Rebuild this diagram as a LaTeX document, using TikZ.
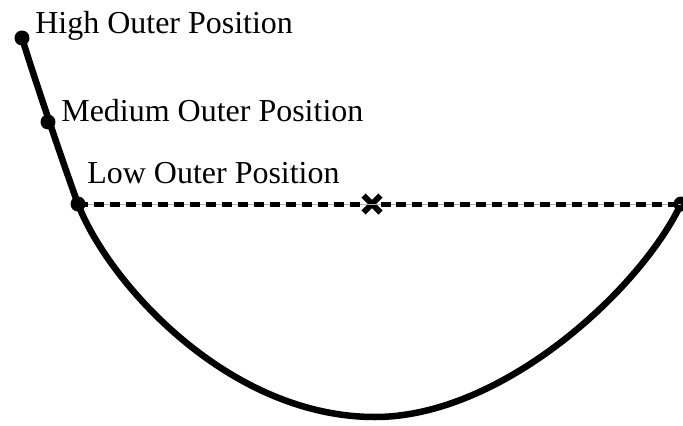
\documentclass[tikz,border=0pt]{standalone}
\usepackage{fontspec}
\setmainfont{Liberation Serif}
\usetikzlibrary{shapes.misc}

\begin{document}
\begin{tikzpicture}[
        x=0.02cm, y=-0.02cm,
        dot/.style={circle, fill=black, inner sep=0pt, minimum size=0.3cm},
        lbl/.style={anchor=base west, inner sep=0pt, font=\fontsize{18.2}{20}\selectfont},
        swing/.style={line width=0.13cm, line cap=round},
        chord/.style={line width=0.1cm, dash pattern=on 0.2cm off 0.12cm},
        xmark/.style={cross out, draw, line width=0.12cm, minimum size=0.22cm, inner sep=0pt},
    ]
        \useasboundingbox (0,0) rectangle (683,426);

        \node (high) [dot] at (22,38) {};
        \node (medium) [dot] at (48,122) {};
        \node (low) [dot] at (78,204) {};
        \node (rightend) [dot] at (681,204) {};
        \coordinate (bottom) at (375,417);
        \node (centre) [xmark] at (372,204) {};

        \node (hightext) [lbl] at (35,33) {High Outer Position};
        \node (mediumtext) [lbl] at (61,121) {Medium Outer Position};
        \node (lowtext) [lbl] at (87,183) {Low Outer Position};

        \draw [swing] (high.center) .. controls (35,80) and (62,160) .. (low.center)
            .. controls (108,282) and (228,417) .. (bottom)
            .. controls (502,417) and (640,290) .. (rightend.center);
        \draw [gray!60, line width=0.3pt] (low.center) -- (rightend.center);
        \draw [chord] (low.center) -- (centre);
        \draw [chord] (centre) -- (rightend.center);
    \end{tikzpicture}
\end{document}
